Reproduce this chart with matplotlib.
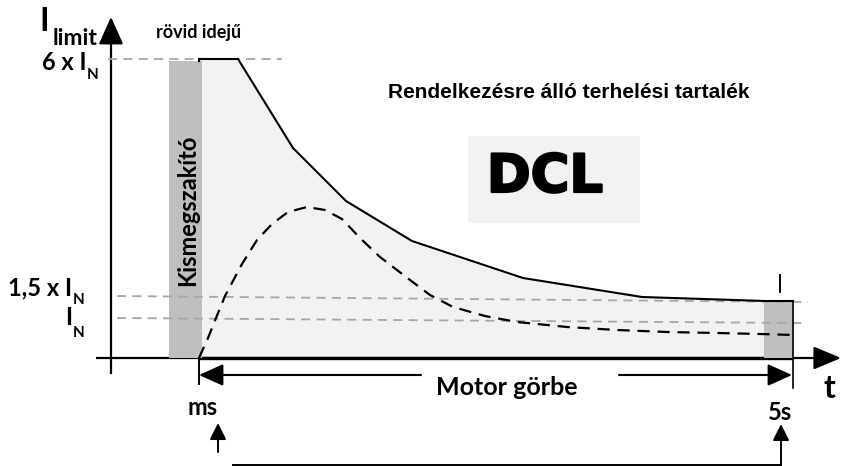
import matplotlib
matplotlib.use("Agg")
import matplotlib.pyplot as plt
import matplotlib.patheffects as pe
from matplotlib.patches import Rectangle

# ---- data (schematic, in image units: x to the right, y downward) ----
limit_x = [199, 199, 238, 293, 346, 412, 523, 642, 765, 793]
limit_y = [61, 59, 59, 148, 201, 241, 278, 297, 301, 301]

motor_x = [199, 208, 216, 225, 234, 242, 257, 272, 288, 307, 325, 342, 360, 380, 410, 430, 453, 485, 517, 567, 617, 667, 717, 760, 793]
motor_y = [358, 338, 318, 296, 279, 264, 240, 224, 212, 207, 210, 219, 238, 257, 280, 295, 307, 316, 322, 327, 330, 332, 333, 334, 335]

level_labels = ["6 x I", "1,5 x I", "I"]
level_label_base = [70, 295, 325]
level_label_right = [86, 72, 72]
level_sub_base = [79, 304, 337]
level_y_left = [59, 296, 318]
level_y_right = [59, 302, 323]
level_x_start = [108, 117, 117]
level_x_end = [282, 808, 803]

FONT = ["Lato", "DejaVu Sans"]

fig = plt.figure(figsize=(8.46, 4.66), dpi=100)
ax = fig.add_axes([0, 0, 1, 1])
ax.set_xlim(0, 846)
ax.set_ylim(466, 0)
ax.axis("off")

# light fill under limit curve
ax.fill_between(limit_x[1:], limit_y[1:], 358, color="#f2f2f2", zorder=1, lw=0)
# DCL box
ax.add_patch(Rectangle((468, 136), 172, 87, color="#f2f2f2", zorder=1, lw=0))

# axes
ax.plot([96, 826], [358, 358], color="k", lw=1.6, zorder=2, solid_capstyle="butt")
ax.plot([199, 793], [358, 358], color="k", lw=2.4, zorder=2, solid_capstyle="butt")
ax.plot([111, 111], [373, 34], color="k", lw=1.6, zorder=2)
ax.annotate("", xy=(111, 17), xytext=(111, 40),
            arrowprops=dict(arrowstyle="-|>,head_length=1.0,head_width=0.45", color="k", lw=1.6,
                            mutation_scale=17, shrinkA=0, shrinkB=0), zorder=2)
ax.annotate("", xy=(841, 358), xytext=(815, 358),
            arrowprops=dict(arrowstyle="-|>,head_length=1.0,head_width=0.42", color="k", lw=1.6,
                            mutation_scale=17, shrinkA=0, shrinkB=0), zorder=2)

# grey bars
ax.add_patch(Rectangle((169, 61), 33, 297, color="#bfbfbf", zorder=3, lw=0))
ax.add_patch(Rectangle((764, 301), 29, 57, color="#bfbfbf", zorder=3, lw=0))

# level lines
for xs, xe, yl, yr in zip(level_x_start, level_x_end, level_y_left, level_y_right):
    ax.plot([xs, xe], [yl, yr], color="#a6a6a6", lw=1.3, dashes=(5, 3.5), zorder=4)

# curves
ax.plot(limit_x, limit_y, color="k", lw=1.5, zorder=5, solid_joinstyle="miter")
ax.plot(motor_x, motor_y, color="k", lw=1.6, dashes=(5.5, 3.5), zorder=5)

# vertical markers
ax.plot([199, 199], [358, 384], color="k", lw=1.4, zorder=5)
ax.plot([793, 793], [301, 388], color="k", lw=1.2, zorder=5)
ax.plot([780, 780], [275, 292], color="k", lw=1.4, zorder=5)

# Motor görbe double arrow
ap = dict(arrowstyle="-|>,head_length=1.0,head_width=0.45", color="k", lw=1.5,
          mutation_scale=15, shrinkA=0, shrinkB=0)
ax.annotate("", xy=(199, 375), xytext=(421, 375), arrowprops=ap)
ax.annotate("", xy=(792, 375), xytext=(619, 375), arrowprops=ap)

# bottom bracket
ap2 = dict(arrowstyle="-|>,head_length=1.0,head_width=0.5", color="k", lw=1.4,
           mutation_scale=10, shrinkA=0, shrinkB=0)
ax.annotate("", xy=(218, 423), xytext=(218, 452), arrowprops=ap2)
ax.plot([233, 781], [465, 465], color="k", lw=1.4)
ax.annotate("", xy=(781, 424), xytext=(781, 465.5), arrowprops=ap2)

# texts
bold = dict(family=FONT, fontweight="bold", color="k")
ax.text(39, 31, "I", fontsize=23, ha="left", va="baseline", **bold)
ax.text(53, 45, "limit", fontsize=16.5, ha="left", va="baseline", **bold)
ax.text(199, 38, "rövid idejű", fontsize=13, ha="center", va="baseline", **bold)

for lab, yb, xr, ys in zip(level_labels, level_label_base, level_label_right, level_sub_base):
    ax.text(xr, yb, lab, fontsize=17, ha="right", va="baseline", **bold)
    ax.text(xr + 1, ys, "N", fontsize=11, ha="left", va="baseline", **bold)

ax.text(188, 210, "Kismegszakító", fontsize=17, rotation=90, ha="center", va="center", zorder=6, **bold)
ax.text(569, 98, "Rendelkezésre álló terhelési tartalék", fontsize=15,
        family=["Liberation Sans Narrow", "Liberation Sans"], fontweight="bold",
        ha="center", va="baseline")
ax.text(545, 177, "DCL", fontsize=38, family="DejaVu Sans", fontweight="heavy",
        ha="center", va="center", zorder=6,
        path_effects=[pe.withStroke(linewidth=1.6, foreground="k")])
ax.text(507, 395, "Motor görbe", fontsize=18, ha="center", va="baseline", **bold)
ax.text(829, 398, "t", fontsize=23, ha="center", va="baseline", **bold)
ax.text(203, 415, "ms", fontsize=17, ha="center", va="baseline", **bold)
ax.text(780, 420, "5s", fontsize=17, ha="center", va="baseline", **bold)

fig.savefig("out.png", dpi=100)
